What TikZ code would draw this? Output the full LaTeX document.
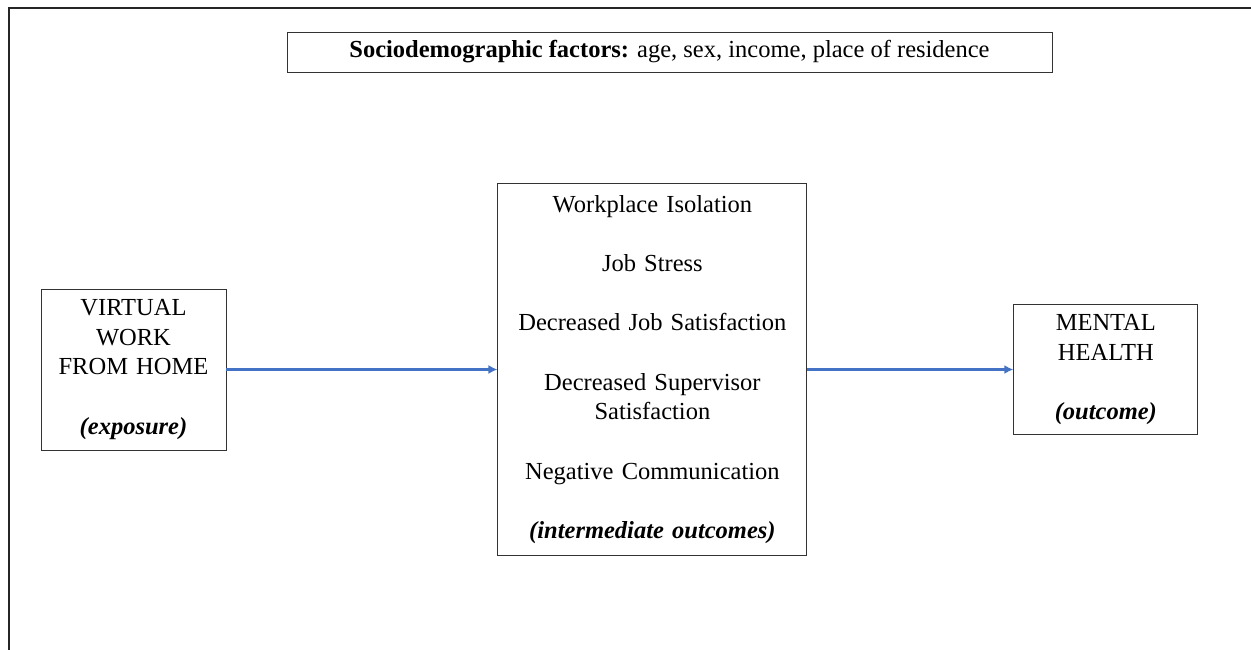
\documentclass[tikz,border=0pt]{standalone}
\usepackage{fontspec}
\setmainfont{Liberation Serif}
\usepackage{xcolor}
\usetikzlibrary{arrows.meta,positioning}

\definecolor{arrowblue}{HTML}{4472C4}
\newcommand{\gap}{\\[29.7pt]}

\begin{document}
\begin{tikzpicture}[
    x=1pt, y=-1pt,
    every node/.style={font=\fontsize{24.5}{29.7}\selectfont},
    box/.style={rectangle, draw=black!80, line width=0.9pt, align=center, inner sep=0pt},
    link/.style={-{Latex[length=9pt,width=9pt]}, draw=arrowblue, line width=2.6pt}
]

\useasboundingbox (0,0) rectangle (1251,650);

% outer frame (only top and left edges show)
\draw[line width=1.6pt, black!85] (1251,8) -- (9,8) -- (9,650);

\node[box, minimum width=765pt, minimum height=40pt] (factors) at (669.5,52)
    {\textbf{Sociodemographic factors:} age, sex, income, place of residence};

\node[box, minimum width=185pt, minimum height=161pt, text width=180pt] (exposure) at (133.5,369.5)
    {VIRTUAL\\WORK\\FROM HOME\gap\textbf{\textit{(exposure)}}};

\node[box, minimum width=309pt, minimum height=372pt, text width=300pt, right=271pt of exposure] (mediators)
    {Workplace Isolation\gap Job Stress\gap Decreased Job Satisfaction\gap
     Decreased Supervisor\\Satisfaction\gap Negative Communication\gap
     \textbf{\textit{(intermediate outcomes)}}};

\node[box, minimum width=184pt, minimum height=130pt, text width=180pt, right=206pt of mediators] (outcome)
    {MENTAL\\HEALTH\gap\textbf{\textit{(outcome)}}};

\draw[link] (exposure) -- (mediators);
\draw[link] (mediators) -- (outcome);

\end{tikzpicture}
\end{document}
